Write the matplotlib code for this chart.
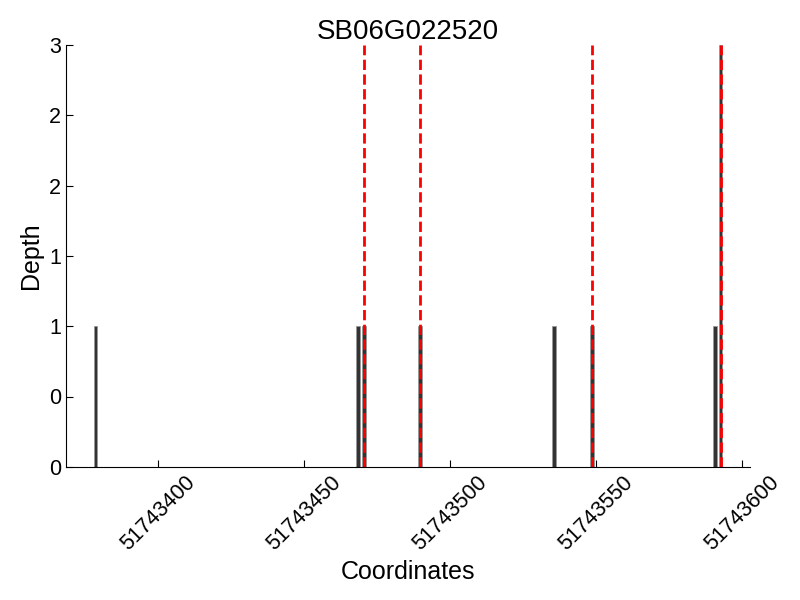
import matplotlib
matplotlib.use('Agg')
import matplotlib.pyplot as plt
from matplotlib.ticker import FormatStrFormatter

plt.rcParams['font.family'] = ['Liberation Sans', 'DejaVu Sans']

gene = 'SB06G022520'
positions = [51743378, 51743468, 51743470, 51743489, 51743535, 51743548, 51743590, 51743592]
depths = [1, 1, 1, 1, 1, 1, 1, 3]
snps = [51743470, 51743489, 51743548, 51743592]

fig = plt.figure(figsize=(8, 6), dpi=100)
ax = fig.add_axes([0.0825, 0.222, 0.855, 0.703])

# bars centred in the middle of each base
centres = [p + 0.5 for p in positions]
ax.bar(centres, depths, width=1.3, color='#333333',
       edgecolor='#999999', linewidth=0.6)
for s in snps:
    ax.axvline(s + 0.5, color='red', linestyle='--', linewidth=2)

ax.set_xlim(51743368.4, 51743602.6)
ax.set_ylim(0, 3)
ax.set_yticks([0, 0.5, 1, 1.5, 2, 2.5, 3])
ax.yaxis.set_major_formatter(FormatStrFormatter('%d'))
ax.set_xticks([51743400, 51743450, 51743500, 51743550, 51743600])
ax.xaxis.set_major_formatter(FormatStrFormatter('%d'))

ax.spines['top'].set_visible(False)
ax.spines['right'].set_visible(False)
ax.tick_params(direction='in', labelsize=15.5, length=5)
plt.setp(ax.get_xticklabels(), rotation=45)

ax.set_title(gene, fontsize=20, pad=4)
ax.set_xlabel('Coordinates', fontsize=18)
ax.set_ylabel('Depth', fontsize=18)

fig.savefig('out.png', dpi=100)
